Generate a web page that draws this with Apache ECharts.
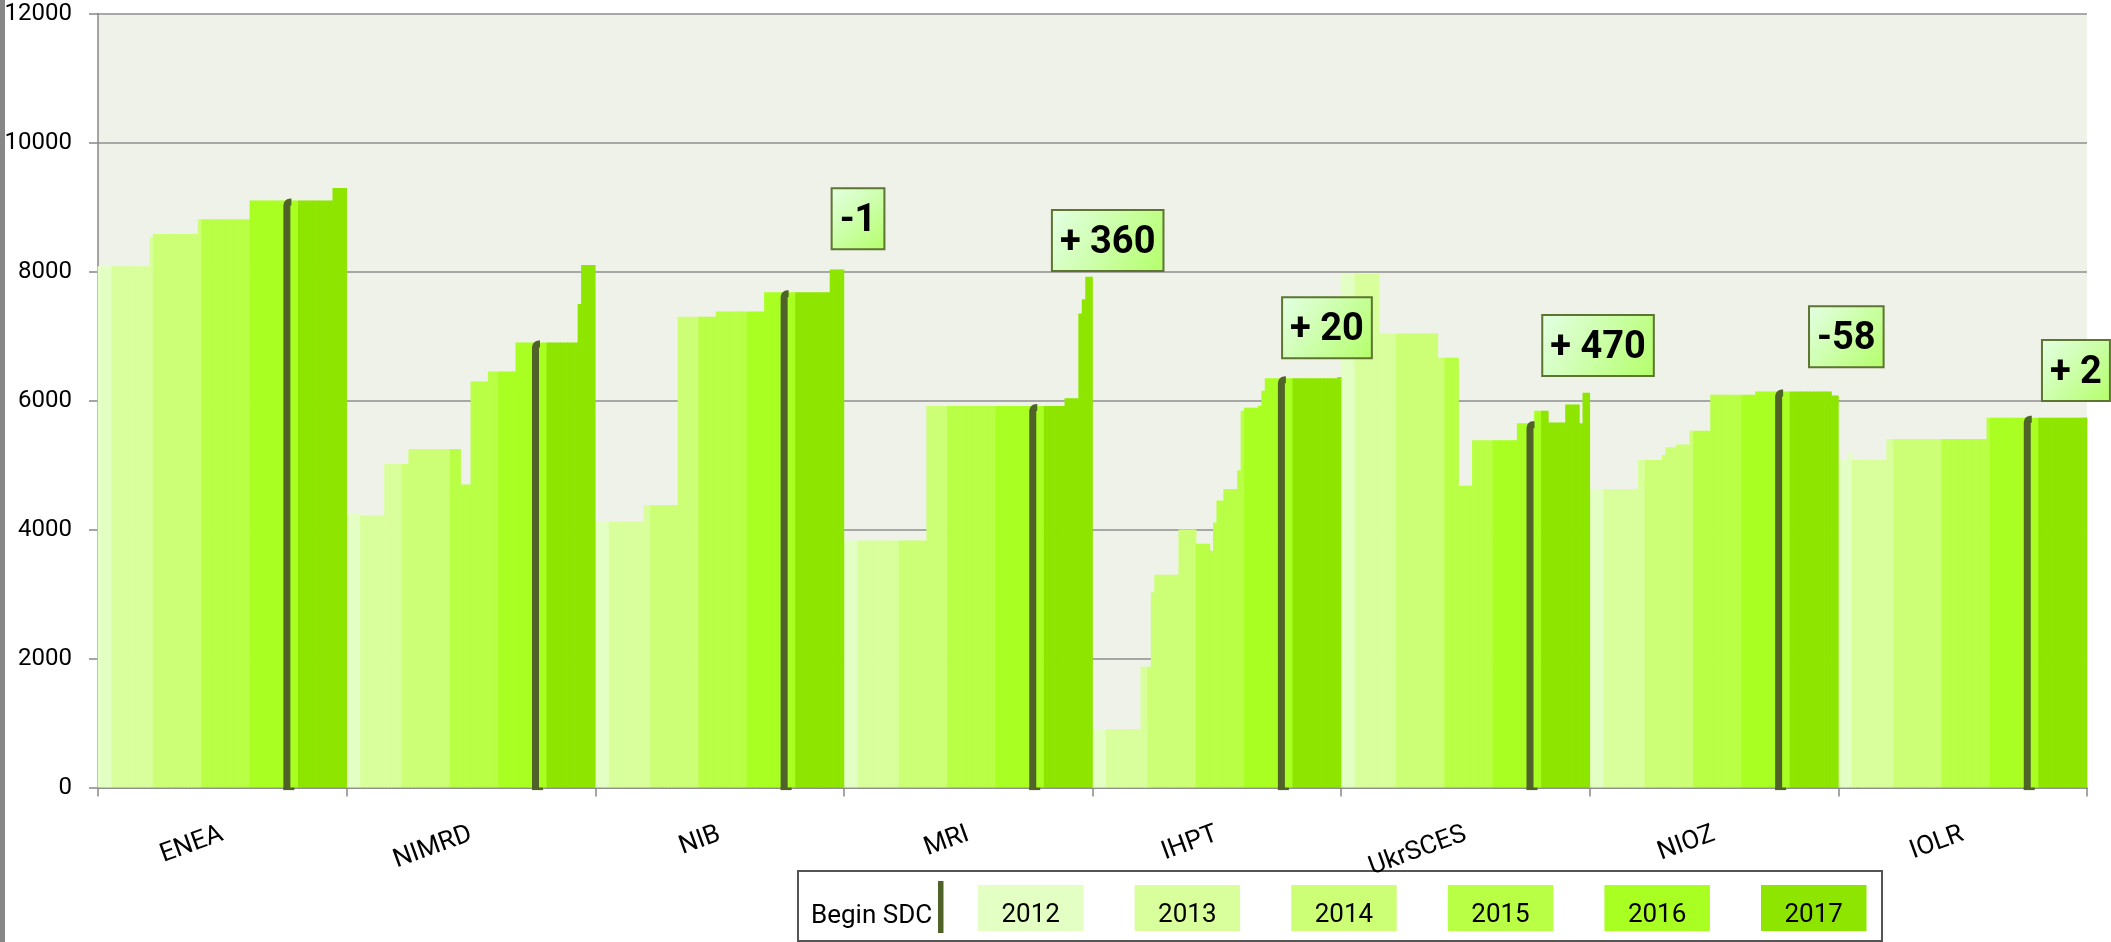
<!DOCTYPE html>
<html><head><meta charset="utf-8">
<script src="https://cdn.jsdelivr.net/npm/echarts/dist/echarts.min.js"></script>
<style>html,body{margin:0;padding:0;background:#fff}#chart{width:2111px;height:942px}</style>
</head><body><div id="chart"></div>
<script>
// ---------------- data ----------------
var categories = ['ENEA','NIMRD','NIB','MRI','IHPT','UkrSCES','NIOZ','IOLR'];
var years = ['2012','2013','2014','2015','2016','2017'];
// first time-slot of each year inside a group (72 slots per group)
var yearFirstSlot = [0, 4, 16, 30, 44, 58];
var slotsPerGroup = 72;
var yMin = 0, yMax = 12000, yStep = 2000;

var ENEA = [
  8080,8080,8080,8080,
  8080,8080,8080,8080,8080,8080,8080,8080,8080,8080,8080,8540,
  8580,8580,8580,8580,8580,8580,8580,8580,8580,8580,8580,8580,8580,8810,
  8810,8810,8810,8810,8810,8810,8810,8810,8810,8810,8810,8810,8810,8810,
  9100,9100,9100,9100,9100,9100,9100,9100,9100,9100,9100,9100,9100,9100,
  9100,9100,9100,9100,9100,9100,9100,9100,9100,9100,9295,9295,9295,9295];
var NIMRD = [
  4250,4250,4250,4250,
  4215,4215,4215,4215,4215,4215,4215,5015,5015,5015,5015,5015,
  5015,5015,5250,5250,5250,5250,5250,5250,5250,5250,5250,5250,5250,5250,
  5250,5250,5250,4700,4700,4700,6295,6295,6295,6295,6295,6450,6450,6450,
  6450,6450,6450,6450,6450,6900,6900,6900,6900,6900,6900,6900,6900,6900,
  6900,6900,6900,6900,6900,6900,6900,6900,6900,7495,8100,8100,8100,8100];
var NIB = [
  4120,4120,4120,4120,
  4120,4120,4120,4120,4120,4120,4120,4120,4120,4120,4380,4380,
  4380,4380,4380,4380,4380,4380,4380,4380,7300,7300,7300,7300,7300,7300,
  7300,7300,7300,7300,7300,7380,7380,7380,7380,7380,7380,7380,7380,7380,
  7380,7380,7380,7380,7380,7680,7680,7680,7680,7680,7680,7680,7680,7680,
  7680,7680,7680,7680,7680,7680,7680,7680,7680,7680,8030,8030,8030,8030];
var MRI = [
  3830,3830,3830,3830,
  3830,3830,3830,3830,3830,3830,3830,3830,3830,3830,3830,3830,
  3830,3830,3830,3830,3830,3830,3830,3830,5915,5915,5915,5915,5915,5915,
  5915,5915,5915,5915,5915,5915,5915,5915,5915,5915,5915,5915,5915,5915,
  5915,5915,5915,5915,5915,5915,5915,5915,5915,5915,5915,5915,5915,5915,
  5915,5915,5915,5915,5915,5915,6035,6035,6035,6035,7350,7570,7920,7920];
var IHPT = [
  905,905,905,905,
  905,905,905,905,905,905,905,905,905,905,1875,1875,
  1875,3030,3300,3300,3300,3300,3300,3300,3300,4000,4000,4000,4000,4000,
  3780,3780,3780,3780,3670,4110,4450,4450,4630,4630,4630,4630,4920,5840,
  5890,5890,5890,5890,5920,6150,6345,6345,6345,6345,6345,6345,6345,6345,
  6345,6345,6345,6345,6345,6345,6345,6345,6345,6345,6345,6345,6345,6365];
var UkrSCES = [
  7965,7965,7965,7965,
  7965,7965,7965,7965,7965,7965,7965,7040,7040,7040,7040,7040,
  7040,7040,7040,7040,7040,7040,7040,7040,7040,7040,7040,7040,6665,6665,
  6665,6665,6665,6665,4680,4680,4680,4680,5385,5385,5385,5385,5385,5385,
  5385,5385,5385,5385,5385,5385,5385,5650,5650,5650,5650,5650,5840,5840,
  5840,5840,5660,5660,5660,5660,5660,5940,5940,5940,5940,5650,6120,6120];
var NIOZ = [
  4630,4630,4630,4630,
  4630,4630,4630,4630,4630,4630,4630,4630,4630,4630,5080,5080,
  5080,5080,5080,5080,5080,5155,5275,5275,5275,5320,5320,5320,5320,5530,
  5530,5530,5530,5530,5530,6090,6090,6090,6090,6090,6090,6090,6090,6090,
  6090,6090,6090,6090,6140,6140,6140,6140,6140,6140,6140,6140,6140,6140,
  6140,6140,6140,6140,6140,6140,6140,6140,6140,6140,6140,6140,6080,6080];
var IOLR = [
  5080,5080,5080,5200,
  5080,5080,5080,5080,5080,5080,5080,5080,5080,5080,5405,5405,
  5405,5405,5405,5405,5405,5405,5405,5405,5405,5405,5405,5405,5405,5405,
  5405,5405,5405,5405,5405,5405,5405,5405,5405,5405,5405,5405,5405,5735,
  5735,5735,5735,5735,5735,5735,5735,5735,5735,5735,5735,5735,5735,5735,
  5735,5735,5735,5735,5735,5735,5735,5735,5735,5735,5735,5735,5735,5737];

// slot (inside each group) where the SDC began
var sdcSlot = [54,54,54,54,54,54,54,54];
var sdcLabel = 'Begin SDC';

// change annotations: text, anchor slot (global, slot-edge units), anchor value
var annoLabels = ['-1', '+ 360', '+ 20', '+ 470', '-58', '+ 2'];
var annoSlot   = [220.1, 292.4, 355.9, 434.4, 506.3, 572.8];
var annoValue  = [8819, 8483, 7128, 6853, 6990, 6467];

// ---------------- styles ----------------
var yearColors = ['#E4FFC4','#D9FF9C','#CCFF76','#B8FF45','#A9FF22','#8EE600'];
var sdcColor = '#4F6228';
var FONT = 'Roboto, "Noto Sans", sans-serif';

// ---------------- build ----------------
var groupData = [ENEA, NIMRD, NIB, MRI, IHPT, UkrSCES, NIOZ, IOLR];
var slotLabels = [];
categories.forEach(function (c) { for (var s = 0; s < slotsPerGroup; s++) slotLabels.push(c + ' ' + s); });
function yearOfSlot(s) { var y = 0; for (var k = 0; k < yearFirstSlot.length; k++) if (s >= yearFirstSlot[k]) y = k; return y; }
var yearSeriesData = years.map(function () { return []; });
groupData.forEach(function (arr, g) {
  arr.forEach(function (v, s) { yearSeriesData[yearOfSlot(s)].push([g * slotsPerGroup + s, v]); });
});
var sdcData = groupData.map(function (arr, g) { return [g * slotsPerGroup + sdcSlot[g], arr[sdcSlot[g]]]; });

var measureCtx = document.createElement('canvas').getContext('2d');
function textWidth(t, font) { measureCtx.font = font; return measureCtx.measureText(t).width; }

var series = years.map(function (yr, k) {
  return {
    name: yr, type: 'custom', xAxisIndex: 1, yAxisIndex: 0, clip: false,
    data: yearSeriesData[k],
    renderItem: function (params, api) {
      var idx = api.value(0), v = api.value(1);
      var top = api.coord([idx, v]);
      var base = api.coord([idx, 0]);
      var bw = api.size([1, 0])[0];
      return { type: 'rect', shape: { x: top[0] - bw / 2 - 0.35, y: top[1], width: bw + 0.7, height: base[1] - top[1] },
               style: { fill: yearColors[k] } };
    }
  };
});

series.push({
  name: sdcLabel, type: 'custom', xAxisIndex: 1, yAxisIndex: 0, clip: false, z: 5,
  data: sdcData,
  renderItem: function (params, api) {
    var idx = api.value(0), v = api.value(1);
    var top = api.coord([idx, v]);
    var base = api.coord([idx, 0]);
    var bw = api.size([1, 0])[0];
    var x = top[0] + bw * 0.2, yt = top[1] + 1.5;
    return { type: 'group', children: [
      { type: 'polyline', shape: { points: [[x, base[1] + 2], [x, yt + 3.5], [x + 0.6, yt + 1.4], [x + 1.8, yt + 0.4], [x + 3.5, yt], [x + 4.5, yt]] },
        style: { stroke: sdcColor, lineWidth: 7, fill: null, lineJoin: 'round' } },
      { type: 'rect', shape: { x: x - 3.5, y: base[1], width: 11, height: 2.5 }, style: { fill: sdcColor } }
    ] };
  }
});

series.push({
  name: 'change', type: 'custom', xAxisIndex: 1, yAxisIndex: 0, clip: false, z: 10,
  data: annoLabels.map(function (t, i) { return [i, annoValue[i]]; }),
  renderItem: function (params, api) {
    var i = params.dataIndex;
    var bw = api.size([1, 0])[0];
    var p0 = api.coord([0, annoValue[i]]);
    var cx = p0[0] - bw / 2 + annoSlot[i] * bw, cy = p0[1];
    var font = 'bold 38px Roboto';
    var w = textWidth(annoLabels[i], font) + 16, h = 61;
    return { type: 'group', children: [
      { type: 'rect', shape: { x: cx - w / 2, y: cy - h / 2, width: w, height: h },
        style: { fill: new echarts.graphic.LinearGradient(0, 0, 1, 1, [{ offset: 0, color: '#E4FFE6' }, { offset: 1, color: '#B4FF6A' }]),
                 stroke: '#5E7431', lineWidth: 2 } },
      { type: 'text', x: cx, y: cy + 3,
        style: { text: annoLabels[i], fill: '#000', fontSize: 38, fontWeight: 'bold', fontFamily: 'Roboto', align: 'center', verticalAlign: 'middle' } }
    ] };
  }
});

// legend drawn as graphic (text inside coloured boxes)
var legendEls = [
  { type: 'rect', left: 797, top: 870, shape: { width: 1084, height: 70 }, style: { fill: '#fff', stroke: '#555', lineWidth: 2 } },
  { type: 'text', x: 811, y: 916, style: { text: sdcLabel, fill: '#000', fontSize: 26, fontFamily: 'Roboto', align: 'left', verticalAlign: 'middle' } },
  { type: 'rect', left: 938, top: 881, shape: { width: 5.5, height: 52 }, style: { fill: sdcColor } }
];
years.forEach(function (yr, k) {
  var x = 978 + k * 156.6;
  legendEls.push({ type: 'rect', left: x, top: 885, shape: { width: 105.5, height: 46 }, style: { fill: yearColors[k] } });
  legendEls.push({ type: 'text', x: x + 52.7, y: 915, style: { text: yr, fill: '#000', fontSize: 26, fontFamily: 'Roboto', align: 'center', verticalAlign: 'middle' } });
});
legendEls.push({ type: 'rect', left: 0, top: 0, shape: { width: 5, height: 942 }, style: { fill: '#878787' } });

var chart = echarts.init(document.getElementById('chart'), null, { renderer: 'canvas' });
chart.setOption({
  animation: false,
  backgroundColor: '#fff',
  textStyle: { fontFamily: FONT },
  grid: { left: 98, right: 24, top: 13.5, bottom: 154.4, show: true, backgroundColor: '#EFF2E8', borderWidth: 0 },
  xAxis: [
    { type: 'category', data: categories, boundaryGap: true,
      axisLine: { lineStyle: { color: '#888', width: 1.5 } },
      axisTick: { show: true, length: 9, lineStyle: { color: '#888', width: 1.5 } },
      axisLabel: { rotate: 20, fontSize: 26, margin: 46, color: '#000', interval: 0, fontFamily: 'Roboto' } },
    { type: 'category', data: slotLabels, show: false, boundaryGap: true }
  ],
  yAxis: [{ type: 'value', min: yMin, max: yMax, interval: yStep,
    axisLine: { show: true, lineStyle: { color: '#888', width: 1.5 } },
    axisTick: { show: true, length: 9, lineStyle: { color: '#888', width: 1.5 } },
    splitLine: { show: true, lineStyle: { color: '#8F8F8F', width: 1.5 } },
    axisLabel: { fontSize: 24, margin: 26, color: '#000', fontFamily: 'Roboto',
                 formatter: function (v) { return String(v); } } }],
  series: series,
  graphic: legendEls
});
</script></body></html>
